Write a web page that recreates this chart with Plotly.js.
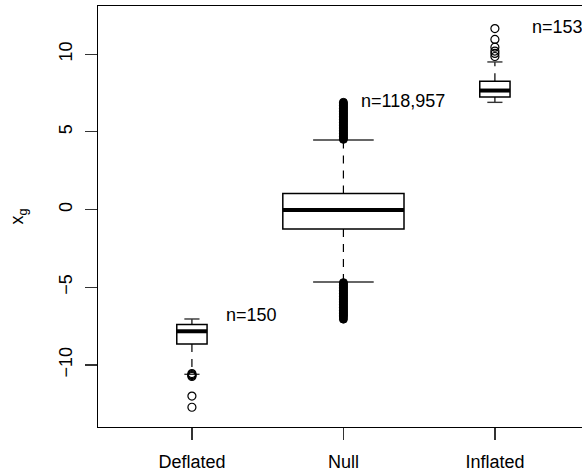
<!DOCTYPE html>
<html>
<head>
<meta charset="utf-8">
<script src="https://cdn.plot.ly/plotly-3.0.1.min.js"></script>
<style>html,body{margin:0;padding:0;background:#fff;}</style>
</head>
<body>
<div id="chart" style="width:582px;height:475px;"></div>
<script>
// ---- data ----
var categories = ['Deflated', 'Null', 'Inflated'];
var q1Values = [-8.65, -1.25, 7.25];
var medianValues = [-7.83, -0.02, 7.66];
var q3Values = [-7.40, 1.03, 8.26];
var lowerWhisker = [-10.60, -4.66, 6.90];
var upperWhisker = [-7.04, 4.48, 9.50];
var outliersDeflated = [-10.55, -10.62, -10.68, -10.74, -12.00, -12.72];
var outliersNull = [4.52, 4.6, 4.7, 4.8, 4.9, 5.0, 5.1, 5.2, 5.3, 5.4, 5.5, 5.6, 5.7, 5.8, 5.9, 6.0, 6.1, 6.2, 6.3, 6.4, 6.5, 6.6, 6.7, 6.8, 6.9,
                    -4.70, -4.8, -4.9, -5.0, -5.1, -5.2, -5.3, -5.4, -5.5, -5.6, -5.7, -5.8, -5.9, -6.0, -6.1, -6.2, -6.3, -6.4, -6.5, -6.6, -6.7, -6.8, -6.9, -7.05];
var outliersInflated = [9.85, 10.05, 10.2, 10.45, 10.95, 11.65];
var countLabels = ['n=150', 'n=118,957', 'n=153'];
var labelX = [1.21, 2.10, 3.23];
var labelY = [-6.8, 7.0, 11.75];

// ---- styles ----
var boxWidths = [0.2, 0.8, 0.2];
var FONT = 'Liberation Sans, Arial, Helvetica, sans-serif';
var outlierSets = [outliersDeflated, outliersNull, outliersInflated];
var outlierMarkers = [
  {symbol: 'circle-open', size: 8, color: '#000', line: {width: 1.2, color: '#000'}},
  {symbol: 'circle', size: 8, color: '#000', line: {width: 1, color: '#000'}},
  {symbol: 'circle-open', size: 8, color: '#000', line: {width: 1.2, color: '#000'}}
];

var traces = [];
categories.forEach(function (cat, i) {
  var pos = i + 1;
  var w = boxWidths[i];
  // whiskers (dashed)
  traces.push({
    type: 'scatter', mode: 'lines', hoverinfo: 'skip', showlegend: false,
    x: [pos, pos, null, pos, pos],
    y: [q3Values[i], upperWhisker[i], null, q1Values[i], lowerWhisker[i]],
    line: {color: '#000', width: 1.2, dash: '8px,7px'}
  });
  // whisker caps
  traces.push({
    type: 'scatter', mode: 'lines', hoverinfo: 'skip', showlegend: false,
    x: [pos - w / 4, pos + w / 4, null, pos - w / 4, pos + w / 4],
    y: [upperWhisker[i], upperWhisker[i], null, lowerWhisker[i], lowerWhisker[i]],
    line: {color: '#333', width: 1.4}
  });
  // box body
  traces.push({
    type: 'box', name: cat, showlegend: false, hoverinfo: 'skip',
    x: [pos], q1: [q1Values[i]], median: [medianValues[i]], q3: [q3Values[i]],
    lowerfence: [q1Values[i]], upperfence: [q3Values[i]],
    width: w, whiskerwidth: 0, boxpoints: false,
    fillcolor: '#fff', line: {color: '#000', width: 1.5}
  });
  // thick median
  traces.push({
    type: 'scatter', mode: 'lines', hoverinfo: 'skip', showlegend: false,
    x: [pos - w / 2, pos + w / 2],
    y: [medianValues[i], medianValues[i]],
    line: {color: '#000', width: 4}
  });
  // outliers
  traces.push({
    type: 'scatter', mode: 'markers', hoverinfo: 'skip', showlegend: false,
    x: outlierSets[i].map(function () { return pos; }),
    y: outlierSets[i],
    marker: outlierMarkers[i]
  });
});

var annotations = countLabels.map(function (t, i) {
  return {
    x: labelX[i], y: labelY[i], xref: 'x', yref: 'y', text: t,
    showarrow: false, xanchor: 'left', yanchor: 'middle',
    font: {family: FONT, size: 18, color: '#000'}
  };
});

var layout = {
  width: 582, height: 475,
  margin: {l: 98, r: 0, t: 6, b: 48, pad: 0},
  paper_bgcolor: '#fff', plot_bgcolor: '#fff',
  showlegend: false,
  font: {family: FONT, size: 18, color: '#000'},
  xaxis: {
    range: [0.38, 3.575], tickvals: [1, 2, 3], ticktext: categories,
    ticks: 'outside', ticklen: 12, tickcolor: '#333', tickwidth: 1.2,
    showline: true, linecolor: '#000', linewidth: 1.2, mirror: true,
    showgrid: false, zeroline: false, fixedrange: true,
    tickfont: {family: FONT, size: 18, color: '#000'}, ticklabelstandoff: 6
  },
  yaxis: {
    range: [-13.99, 13.1], tickvals: [-10, -5, 0, 5, 10], tickangle: -90,
    ticks: 'outside', ticklen: 12, tickcolor: '#333', tickwidth: 1.2,
    showline: true, linecolor: '#000', linewidth: 1.2,
    showgrid: false, zeroline: false, fixedrange: true,
    tickfont: {family: FONT, size: 18, color: '#000'}, ticklabelstandoff: 6,
    title: {text: 'x<sub>g</sub>', font: {family: FONT, size: 18, color: '#000'}, standoff: 27}
  },
  annotations: annotations
};

Plotly.newPlot('chart', traces, layout, {staticPlot: true, displayModeBar: false});
</script>
</body>
</html>
